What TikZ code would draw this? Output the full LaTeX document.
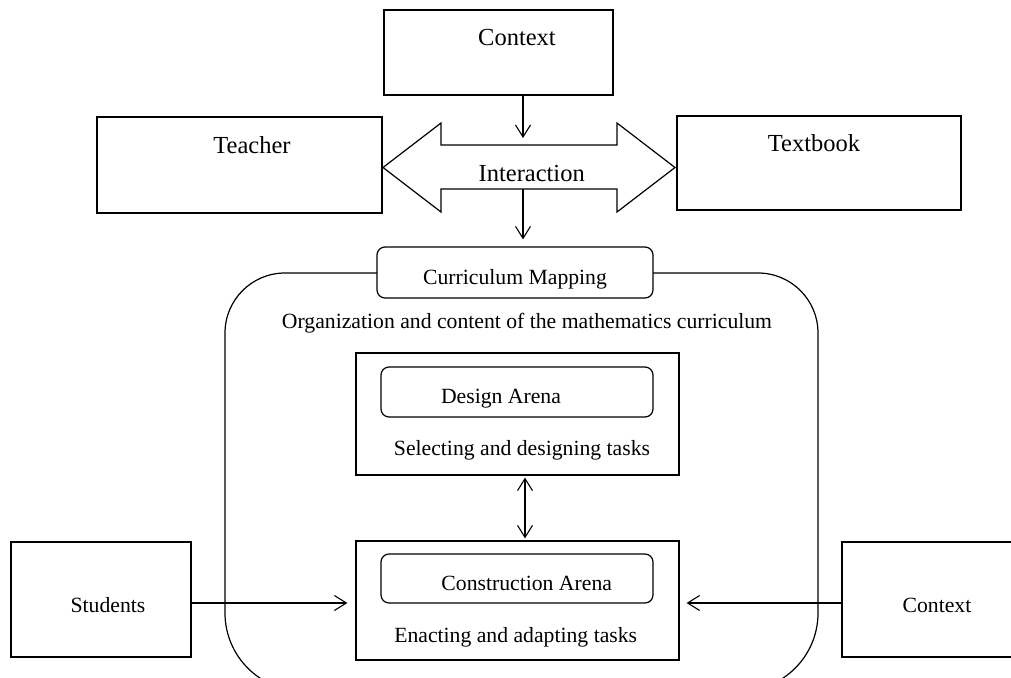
\documentclass[tikz,border=0pt]{standalone}
\usepackage{fontspec}
\setmainfont{Liberation Serif}
\usetikzlibrary{arrows.meta}

\tikzset{
  box/.style={draw, line width=1.2pt, inner sep=0pt, fill=white},
  rbox/.style={box, rounded corners=8pt},
  big/.style={font=\fontsize{24.5}{29}\selectfont, anchor=base, inner sep=0pt},
  small/.style={font=\fontsize{21.7}{26}\selectfont, anchor=base, inner sep=0pt},
  arr/.style={line width=1.1pt, -{Straight Barb[length=12pt,width=15pt,line width=1.1pt]}},
  darr/.style={line width=1.1pt, {Straight Barb[length=12pt,width=15pt,line width=1.1pt]}-{Straight Barb[length=12pt,width=15pt,line width=1.1pt]}},
}

\begin{document}
\begin{tikzpicture}[x=1pt, y=-1pt]
\useasboundingbox (0,0) rectangle (1011,677);
\clip (0,0) rectangle (1011,677);

% outer frame of the curriculum
\draw[line width=1.2pt] (225,450) [rounded corners=60pt] -- (225,273) -- (818,273)
  -- (818,450) [rounded corners=78pt] -- (818,691) -- (225,691) -- cycle;

% top row
\node[box, minimum width=229pt, minimum height=85pt] (ctxTop) at (498.5,52.5) {};
\node[box, minimum width=285pt, minimum height=96pt] (teacher) at (239.5,165) {};
\node[box, minimum width=284pt, minimum height=94pt] (textbook) at (819,163) {};

% interaction double arrow
\draw[line width=1.2pt, line join=miter]
  (383,167.5) -- (441,123) -- (441,145) -- (617,145) -- (617,123) -- (675,167.5)
  -- (617,212) -- (617,189) -- (441,189) -- (441,212) -- cycle;
\coordinate (iaTop) at (523,145);
\coordinate (iaBot) at (523,189);

% curriculum mapping
\node[rbox, minimum width=276pt, minimum height=51pt] (curmap) at (515,272.5) {};

% arenas
\node[box, minimum width=323pt, minimum height=122pt] (design) at (517.5,414) {};
\node[rbox, minimum width=272pt, minimum height=50pt] (designIn) at (517,392) {};
\node[box, minimum width=323pt, minimum height=119pt] (constr) at (517.5,600.5) {};
\node[rbox, minimum width=272pt, minimum height=49pt] (constrIn) at (517,578.5) {};

% side boxes
\node[box, minimum width=180pt, minimum height=115pt] (students) at (101,599.5) {};
\node[box, minimum width=188pt, minimum height=115pt] (ctxRight) at (936,599.5) {};
\coordinate (yline) at (0,603);
\coordinate (xmid) at (525,0);

% labels
\node[big] (tCtx) at (517,46) {Context};
\node[big] (tTeacher) at (252,153) {Teacher};
\node[big] (tTextbook) at (814,151) {Textbook};
\node[big] (tInter) at (531.7,181) {Interaction};
\node[small] (tCur) at (515,284) {Curriculum Mapping};
\node[small] (tOrg) at (527,328) {Organization and content of the mathematics curriculum};
\node[small] (tDes) at (501,403) {Design Arena};
\node[small] (tSel) at (522,455) {Selecting and designing tasks};
\node[small] (tCon) at (526.7,590) {Construction Arena};
\node[small] (tEna) at (515.7,642) {Enacting and adapting tasks};
\node[small] (tStu) at (108,612) {Students};
\node[small] (tCtxR) at (937,612) {Context};

% connectors
\draw[arr, shorten >=7pt] (ctxTop.south -| iaTop) -- (iaTop);
\draw[arr, shorten >=7pt] (iaBot) -- (curmap.north -| iaBot);
\draw[darr, shorten <=2pt, shorten >=2pt] (design.south -| xmid) -- (constr.north -| xmid);
\draw[arr, shorten >=8pt] (students.east |- yline) -- (constr.west |- yline);
\draw[arr, shorten >=7pt] (ctxRight.west |- yline) -- (constr.east |- yline);
\end{tikzpicture}
\end{document}
